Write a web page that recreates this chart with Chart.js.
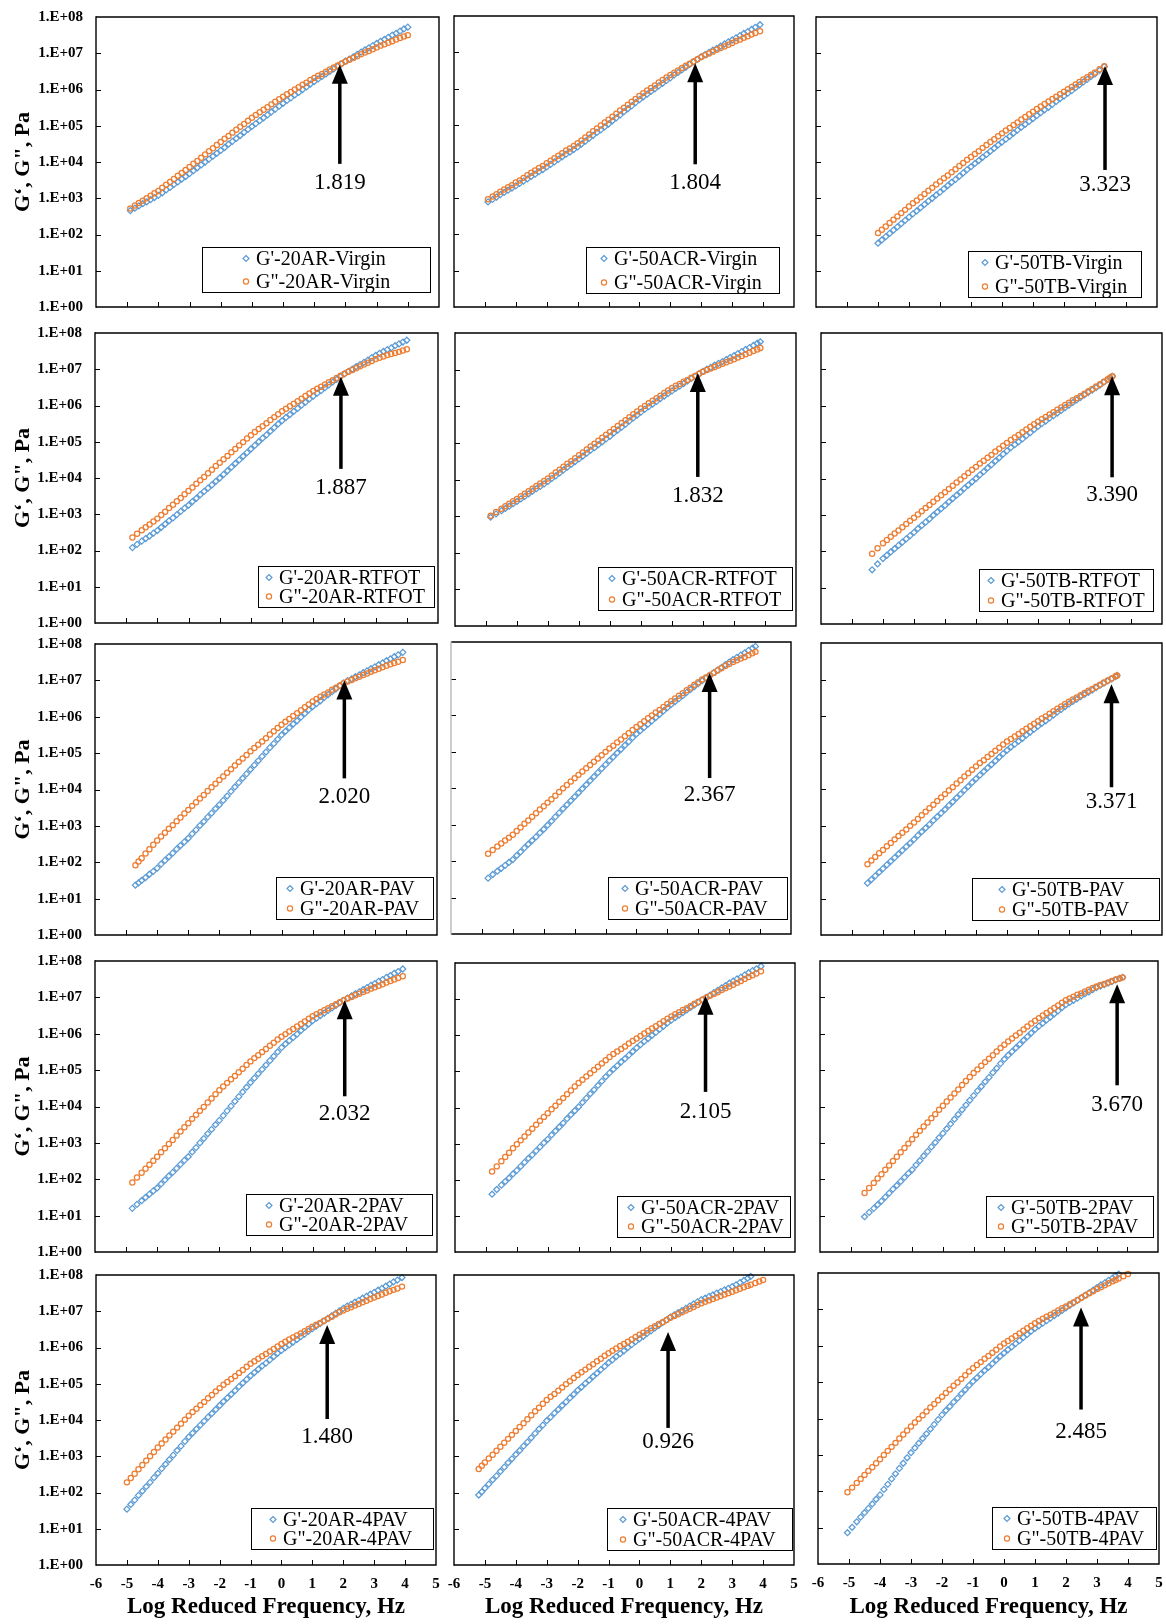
<!DOCTYPE html>
<html>
<head>
<meta charset="utf-8">
<title>G' and G" master curves</title>
<script src="https://cdn.jsdelivr.net/npm/chart.js@4.4.1/dist/chart.umd.min.js"></script>
<style>
  html, body { margin: 0; padding: 0; background: #fff; }
  #page { position: relative; width: 1166px; height: 1624px; overflow: hidden; background: #fff; }
  #page canvas { position: absolute; }
</style>
</head>
<body>
<div id="page"></div>
<script>
// ---------- categories ----------
const binders = ['20AR', '50ACR', '50TB'];
const agingStates = ['Virgin', 'RTFOT', 'PAV', '2PAV', '4PAV'];

// ---------- tick labels ----------
const xTickValues = [-6, -5, -4, -3, -2, -1, 0, 1, 2, 3, 4, 5];
const yTickValues = [1, 1e1, 1e2, 1e3, 1e4, 1e5, 1e6, 1e7, 1e8];

// ---------- crossover frequency (log Hz) and arrow tip (log Pa), rows = aging, cols = binder ----------
const crossoverFreq = [
  [1.819, 1.804, 3.323],
  [1.887, 1.832, 3.390],
  [2.020, 2.367, 3.371],
  [2.032, 2.105, 3.670],
  [1.480, 0.926, 2.485]
];
const arrowTipLogG = [
  [6.68, 6.70, 6.65],
  [6.79, 6.91, 6.81],
  [7.00, 7.15, 6.87],
  [6.92, 7.09, 7.36],
  [6.62, 6.43, 7.05]
];

// ---------- master curve data: log reduced frequency (Hz), log G' and log G" (Pa) ----------
const logFreq_20AR_Virgin = [-4.9,-4.75,-4.625,-4.5,-4.375,-4.25,-4.125,-4,-3.875,-3.75,-3.625,-3.5,-3.375,-3.25,-3.125,-3,-2.875,-2.75,-2.625,-2.5,-2.375,-2.25,-2.125,-2,-1.875,-1.75,-1.625,-1.5,-1.375,-1.25,-1.125,-1,-0.875,-0.75,-0.625,-0.5,-0.375,-0.25,-0.125,0,0.125,0.25,0.375,0.5,0.625,0.75,0.875,1,1.125,1.25,1.375,1.5,1.625,1.75,1.875,2,2.125,2.25,2.375,2.5,2.625,2.75,2.875,3,3.125,3.25,3.375,3.5,3.625,3.75,3.875,4];
const logGp_20AR_Virgin  = [2.66,2.73,2.79,2.85,2.90,2.96,3.02,3.08,3.15,3.23,3.30,3.38,3.45,3.53,3.60,3.68,3.76,3.84,3.92,4.00,4.08,4.16,4.24,4.32,4.40,4.49,4.57,4.65,4.73,4.82,4.90,4.98,5.06,5.14,5.22,5.30,5.38,5.46,5.54,5.62,5.70,5.77,5.85,5.92,6.00,6.07,6.15,6.22,6.29,6.36,6.43,6.50,6.57,6.64,6.71,6.78,6.84,6.90,6.97,7.03,7.09,7.15,7.21,7.27,7.33,7.38,7.44,7.50,7.55,7.61,7.67,7.72];
const logGpp_20AR_Virgin = [2.72,2.80,2.87,2.93,3.00,3.07,3.14,3.20,3.29,3.37,3.45,3.53,3.62,3.70,3.78,3.86,3.95,4.03,4.12,4.21,4.30,4.38,4.47,4.55,4.64,4.72,4.81,4.89,4.97,5.05,5.14,5.22,5.30,5.37,5.44,5.51,5.59,5.66,5.73,5.80,5.87,5.93,6.00,6.06,6.13,6.19,6.26,6.32,6.38,6.43,6.49,6.55,6.61,6.66,6.72,6.77,6.82,6.87,6.92,6.97,7.02,7.06,7.11,7.16,7.21,7.25,7.29,7.33,7.38,7.42,7.46,7.50];

const logFreq_50ACR_Virgin = [-4.9,-4.75,-4.625,-4.5,-4.375,-4.25,-4.125,-4,-3.875,-3.75,-3.625,-3.5,-3.375,-3.25,-3.125,-3,-2.875,-2.75,-2.625,-2.5,-2.375,-2.25,-2.125,-2,-1.875,-1.75,-1.625,-1.5,-1.375,-1.25,-1.125,-1,-0.875,-0.75,-0.625,-0.5,-0.375,-0.25,-0.125,0,0.125,0.25,0.375,0.5,0.625,0.75,0.875,1,1.125,1.25,1.375,1.5,1.625,1.75,1.875,2,2.125,2.25,2.375,2.5,2.625,2.75,2.875,3,3.125,3.25,3.375,3.5,3.625,3.75,3.9];
const logGp_50ACR_Virgin  = [2.89,2.96,3.02,3.09,3.15,3.21,3.27,3.33,3.40,3.46,3.52,3.59,3.65,3.72,3.78,3.85,3.92,3.99,4.06,4.13,4.20,4.26,4.33,4.40,4.48,4.56,4.64,4.72,4.80,4.87,4.95,5.03,5.12,5.20,5.28,5.37,5.45,5.53,5.62,5.70,5.78,5.85,5.93,6.00,6.08,6.15,6.23,6.30,6.38,6.45,6.52,6.59,6.67,6.74,6.81,6.88,6.94,7.00,7.06,7.11,7.17,7.23,7.29,7.34,7.40,7.46,7.52,7.57,7.63,7.69,7.76];
const logGpp_50ACR_Virgin = [2.96,3.04,3.10,3.17,3.23,3.29,3.35,3.42,3.48,3.55,3.62,3.69,3.75,3.82,3.88,3.95,4.02,4.09,4.16,4.23,4.30,4.36,4.43,4.50,4.58,4.66,4.74,4.83,4.91,4.99,5.07,5.15,5.23,5.31,5.40,5.48,5.56,5.64,5.72,5.80,5.88,5.95,6.02,6.09,6.17,6.24,6.31,6.38,6.44,6.50,6.57,6.63,6.69,6.75,6.81,6.87,6.92,6.97,7.02,7.07,7.12,7.16,7.21,7.26,7.31,7.35,7.40,7.44,7.49,7.53,7.58];

const logFreq_50TB_Virgin = [-4,-3.875,-3.75,-3.625,-3.5,-3.375,-3.25,-3.125,-3,-2.875,-2.75,-2.625,-2.5,-2.375,-2.25,-2.125,-2,-1.875,-1.75,-1.625,-1.5,-1.375,-1.25,-1.125,-1,-0.875,-0.75,-0.625,-0.5,-0.375,-0.25,-0.125,0,0.125,0.25,0.375,0.5,0.625,0.75,0.875,1,1.125,1.25,1.375,1.5,1.625,1.75,1.875,2,2.125,2.25,2.375,2.5,2.625,2.75,2.875,3,3.15,3.3];
const logGp_50TB_Virgin  = [1.76,1.85,1.94,2.03,2.12,2.21,2.30,2.39,2.48,2.57,2.65,2.74,2.83,2.92,3.00,3.09,3.17,3.26,3.35,3.44,3.52,3.61,3.70,3.79,3.87,3.96,4.04,4.13,4.21,4.30,4.38,4.47,4.55,4.63,4.71,4.80,4.88,4.96,5.04,5.12,5.20,5.28,5.36,5.44,5.51,5.59,5.67,5.75,5.82,5.90,5.97,6.05,6.13,6.21,6.28,6.36,6.43,6.53,6.63];
const logGpp_50TB_Virgin = [2.04,2.13,2.22,2.32,2.41,2.50,2.59,2.68,2.77,2.86,2.94,3.03,3.12,3.21,3.29,3.38,3.46,3.55,3.63,3.72,3.80,3.89,3.97,4.06,4.14,4.22,4.30,4.39,4.47,4.55,4.63,4.71,4.79,4.87,4.94,5.02,5.09,5.17,5.24,5.32,5.39,5.46,5.53,5.60,5.67,5.74,5.80,5.87,5.94,6.01,6.07,6.14,6.21,6.28,6.34,6.41,6.47,6.56,6.64];

const logFreq_20AR_RTFOT = [-4.8,-4.65,-4.5,-4.375,-4.25,-4.125,-4,-3.875,-3.75,-3.625,-3.5,-3.375,-3.25,-3.125,-3,-2.875,-2.75,-2.625,-2.5,-2.375,-2.25,-2.125,-2,-1.875,-1.75,-1.625,-1.5,-1.375,-1.25,-1.125,-1,-0.875,-0.75,-0.625,-0.5,-0.375,-0.25,-0.125,0,0.125,0.25,0.375,0.5,0.625,0.75,0.875,1,1.125,1.25,1.375,1.5,1.625,1.75,1.875,2,2.125,2.25,2.375,2.5,2.625,2.75,2.875,3,3.125,3.25,3.375,3.5,3.625,3.75,3.875,4];
const logGp_20AR_RTFOT  = [2.08,2.17,2.26,2.33,2.40,2.48,2.55,2.64,2.73,2.82,2.90,2.99,3.08,3.17,3.25,3.35,3.44,3.54,3.63,3.72,3.81,3.91,4.00,4.10,4.20,4.30,4.40,4.50,4.60,4.70,4.80,4.90,5.00,5.10,5.19,5.29,5.39,5.49,5.58,5.67,5.75,5.84,5.92,6.01,6.09,6.18,6.26,6.34,6.41,6.49,6.57,6.65,6.72,6.80,6.87,6.94,7.00,7.07,7.13,7.19,7.25,7.32,7.38,7.44,7.49,7.54,7.59,7.65,7.70,7.75,7.80];
const logGpp_20AR_RTFOT = [2.36,2.46,2.56,2.64,2.72,2.80,2.88,2.98,3.07,3.17,3.26,3.36,3.45,3.55,3.64,3.74,3.84,3.94,4.03,4.13,4.23,4.33,4.42,4.52,4.61,4.71,4.80,4.90,4.99,5.09,5.18,5.27,5.35,5.43,5.51,5.60,5.68,5.76,5.84,5.91,5.98,6.05,6.12,6.19,6.26,6.33,6.40,6.46,6.52,6.58,6.64,6.70,6.76,6.82,6.88,6.93,6.98,7.03,7.08,7.13,7.18,7.23,7.28,7.32,7.35,7.39,7.42,7.45,7.48,7.52,7.55];

const logFreq_50ACR_RTFOT = [-4.85,-4.675,-4.5,-4.375,-4.25,-4.125,-4,-3.875,-3.75,-3.625,-3.5,-3.375,-3.25,-3.125,-3,-2.875,-2.75,-2.625,-2.5,-2.375,-2.25,-2.125,-2,-1.875,-1.75,-1.625,-1.5,-1.375,-1.25,-1.125,-1,-0.875,-0.75,-0.625,-0.5,-0.375,-0.25,-0.125,0,0.125,0.25,0.375,0.5,0.625,0.75,0.875,1,1.125,1.25,1.375,1.5,1.625,1.75,1.875,2,2.125,2.25,2.375,2.5,2.625,2.75,2.875,3,3.125,3.25,3.375,3.5,3.625,3.75,3.85];
const logGp_50ACR_RTFOT  = [2.97,3.06,3.15,3.21,3.27,3.34,3.40,3.47,3.54,3.61,3.68,3.75,3.81,3.88,3.95,4.03,4.10,4.18,4.26,4.34,4.41,4.49,4.56,4.64,4.72,4.80,4.87,4.95,5.03,5.11,5.18,5.27,5.35,5.43,5.51,5.60,5.68,5.76,5.84,5.92,5.99,6.06,6.13,6.21,6.28,6.35,6.42,6.49,6.55,6.62,6.69,6.76,6.82,6.89,6.95,7.01,7.06,7.12,7.17,7.22,7.27,7.33,7.38,7.44,7.49,7.55,7.60,7.66,7.72,7.76];
const logGpp_50ACR_RTFOT = [3.01,3.11,3.20,3.27,3.34,3.41,3.47,3.54,3.61,3.68,3.75,3.82,3.89,3.96,4.03,4.11,4.19,4.27,4.35,4.43,4.50,4.58,4.66,4.74,4.82,4.90,4.98,5.06,5.14,5.22,5.30,5.38,5.46,5.54,5.62,5.70,5.78,5.86,5.94,6.01,6.08,6.15,6.22,6.29,6.36,6.43,6.50,6.56,6.61,6.67,6.72,6.78,6.83,6.89,6.94,6.99,7.03,7.07,7.11,7.16,7.20,7.24,7.28,7.33,7.37,7.42,7.46,7.51,7.55,7.59];

const logFreq_50TB_RTFOT = [-4.35,-4.175,-4,-3.875,-3.75,-3.625,-3.5,-3.375,-3.25,-3.125,-3,-2.875,-2.75,-2.625,-2.5,-2.375,-2.25,-2.125,-2,-1.875,-1.75,-1.625,-1.5,-1.375,-1.25,-1.125,-1,-0.875,-0.75,-0.625,-0.5,-0.375,-0.25,-0.125,0,0.125,0.25,0.375,0.5,0.625,0.75,0.875,1,1.125,1.25,1.375,1.5,1.625,1.75,1.875,2,2.125,2.25,2.375,2.5,2.625,2.75,2.875,3,3.125,3.25,3.325,3.4];
const logGp_50TB_RTFOT  = [1.49,1.65,1.80,1.89,1.98,2.07,2.16,2.25,2.34,2.43,2.52,2.62,2.71,2.80,2.89,2.99,3.08,3.17,3.26,3.36,3.45,3.54,3.63,3.73,3.82,3.91,4.00,4.10,4.19,4.29,4.38,4.48,4.57,4.67,4.76,4.85,4.93,5.01,5.09,5.18,5.26,5.35,5.43,5.51,5.58,5.66,5.73,5.80,5.87,5.95,6.02,6.09,6.16,6.23,6.30,6.37,6.43,6.50,6.57,6.65,6.72,6.77,6.81];
const logGpp_50TB_RTFOT = [1.93,2.08,2.22,2.31,2.40,2.49,2.57,2.66,2.75,2.84,2.92,3.01,3.10,3.19,3.27,3.36,3.45,3.54,3.62,3.71,3.80,3.89,3.97,4.06,4.15,4.24,4.32,4.41,4.49,4.57,4.65,4.74,4.82,4.90,4.98,5.06,5.13,5.20,5.27,5.35,5.42,5.49,5.56,5.63,5.69,5.76,5.82,5.89,5.95,6.02,6.08,6.15,6.21,6.27,6.33,6.40,6.46,6.53,6.59,6.66,6.73,6.77,6.81];

const logFreq_20AR_PAV = [-4.7,-4.6,-4.5,-4.375,-4.25,-4.125,-4,-3.875,-3.75,-3.625,-3.5,-3.375,-3.25,-3.125,-3,-2.875,-2.75,-2.625,-2.5,-2.375,-2.25,-2.125,-2,-1.875,-1.75,-1.625,-1.5,-1.375,-1.25,-1.125,-1,-0.875,-0.75,-0.625,-0.5,-0.375,-0.25,-0.125,0,0.125,0.25,0.375,0.5,0.625,0.75,0.875,1,1.125,1.25,1.375,1.5,1.625,1.75,1.875,2,2.125,2.25,2.375,2.5,2.625,2.75,2.875,3,3.125,3.25,3.375,3.5,3.625,3.75,3.9];
const logGp_20AR_PAV  = [1.37,1.43,1.50,1.58,1.67,1.75,1.84,1.95,2.05,2.15,2.25,2.36,2.46,2.56,2.66,2.78,2.89,3.01,3.12,3.24,3.35,3.47,3.58,3.70,3.82,3.95,4.07,4.19,4.31,4.43,4.55,4.67,4.79,4.91,5.03,5.15,5.26,5.38,5.50,5.60,5.70,5.80,5.89,5.99,6.09,6.19,6.28,6.36,6.44,6.53,6.61,6.69,6.77,6.85,6.93,6.99,7.04,7.10,7.15,7.21,7.26,7.32,7.37,7.43,7.48,7.54,7.59,7.65,7.70,7.77];
const logGpp_20AR_PAV = [1.92,2.02,2.11,2.24,2.36,2.48,2.60,2.71,2.81,2.92,3.02,3.13,3.23,3.34,3.44,3.55,3.65,3.75,3.85,3.96,4.06,4.16,4.26,4.36,4.46,4.56,4.66,4.76,4.85,4.95,5.05,5.14,5.23,5.32,5.41,5.51,5.60,5.69,5.78,5.86,5.94,6.02,6.10,6.18,6.26,6.34,6.42,6.49,6.55,6.61,6.67,6.74,6.80,6.86,6.92,6.97,7.01,7.06,7.10,7.15,7.19,7.24,7.28,7.32,7.36,7.40,7.44,7.48,7.51,7.56];

const logFreq_50ACR_PAV = [-4.8,-4.65,-4.5,-4.375,-4.25,-4.125,-4,-3.875,-3.75,-3.625,-3.5,-3.375,-3.25,-3.125,-3,-2.875,-2.75,-2.625,-2.5,-2.375,-2.25,-2.125,-2,-1.875,-1.75,-1.625,-1.5,-1.375,-1.25,-1.125,-1,-0.875,-0.75,-0.625,-0.5,-0.375,-0.25,-0.125,0,0.125,0.25,0.375,0.5,0.625,0.75,0.875,1,1.125,1.25,1.375,1.5,1.625,1.75,1.875,2,2.125,2.25,2.375,2.5,2.625,2.75,2.875,3,3.125,3.25,3.375,3.5,3.625,3.75,3.85];
const logGp_50ACR_PAV  = [1.53,1.63,1.72,1.80,1.88,1.96,2.04,2.15,2.25,2.36,2.46,2.56,2.66,2.77,2.87,2.98,3.09,3.21,3.32,3.43,3.54,3.65,3.76,3.87,3.98,4.09,4.20,4.31,4.42,4.53,4.64,4.75,4.85,4.96,5.06,5.17,5.27,5.38,5.48,5.57,5.66,5.75,5.84,5.93,6.02,6.11,6.20,6.29,6.37,6.45,6.53,6.62,6.70,6.78,6.86,6.94,7.01,7.09,7.16,7.23,7.30,7.38,7.45,7.52,7.58,7.64,7.70,7.77,7.83,7.88];
const logGpp_50ACR_PAV = [2.20,2.30,2.40,2.48,2.56,2.64,2.72,2.82,2.92,3.02,3.11,3.21,3.31,3.41,3.50,3.60,3.69,3.79,3.89,3.99,4.08,4.18,4.27,4.36,4.45,4.54,4.63,4.72,4.81,4.90,4.99,5.08,5.16,5.25,5.33,5.42,5.50,5.59,5.67,5.75,5.83,5.91,5.99,6.07,6.14,6.22,6.30,6.38,6.45,6.53,6.60,6.68,6.75,6.83,6.90,6.97,7.03,7.09,7.15,7.22,7.28,7.34,7.40,7.45,7.50,7.55,7.59,7.64,7.69,7.73];

const logFreq_50TB_PAV = [-4.5,-4.375,-4.25,-4.125,-4,-3.875,-3.75,-3.625,-3.5,-3.375,-3.25,-3.125,-3,-2.875,-2.75,-2.625,-2.5,-2.375,-2.25,-2.125,-2,-1.875,-1.75,-1.625,-1.5,-1.375,-1.25,-1.125,-1,-0.875,-0.75,-0.625,-0.5,-0.375,-0.25,-0.125,0,0.125,0.25,0.375,0.5,0.625,0.75,0.875,1,1.125,1.25,1.375,1.5,1.625,1.75,1.875,2,2.125,2.25,2.375,2.5,2.625,2.75,2.875,3,3.125,3.25,3.375,3.5,3.55];
const logGp_50TB_PAV  = [1.42,1.52,1.62,1.72,1.82,1.92,2.02,2.12,2.22,2.32,2.42,2.52,2.62,2.73,2.83,2.93,3.03,3.14,3.24,3.34,3.44,3.55,3.65,3.76,3.86,3.97,4.07,4.18,4.28,4.38,4.48,4.58,4.67,4.77,4.87,4.97,5.06,5.15,5.23,5.31,5.39,5.48,5.56,5.64,5.72,5.80,5.87,5.95,6.03,6.11,6.18,6.26,6.33,6.40,6.46,6.53,6.59,6.65,6.71,6.78,6.84,6.90,6.96,7.02,7.08,7.11];
const logGpp_50TB_PAV = [1.94,2.04,2.14,2.24,2.33,2.43,2.52,2.62,2.71,2.80,2.89,2.99,3.08,3.18,3.28,3.38,3.47,3.57,3.67,3.77,3.86,3.96,4.05,4.15,4.24,4.34,4.43,4.53,4.62,4.71,4.79,4.88,4.96,5.05,5.13,5.22,5.30,5.37,5.44,5.51,5.58,5.65,5.72,5.79,5.86,5.93,5.99,6.06,6.13,6.20,6.26,6.33,6.39,6.45,6.51,6.57,6.63,6.69,6.74,6.80,6.86,6.92,6.97,7.03,7.09,7.11];

const logFreq_20AR_2PAV = [-4.8,-4.65,-4.5,-4.375,-4.25,-4.125,-4,-3.875,-3.75,-3.625,-3.5,-3.375,-3.25,-3.125,-3,-2.875,-2.75,-2.625,-2.5,-2.375,-2.25,-2.125,-2,-1.875,-1.75,-1.625,-1.5,-1.375,-1.25,-1.125,-1,-0.875,-0.75,-0.625,-0.5,-0.375,-0.25,-0.125,0,0.125,0.25,0.375,0.5,0.625,0.75,0.875,1,1.125,1.25,1.375,1.5,1.625,1.75,1.875,2,2.125,2.25,2.375,2.5,2.625,2.75,2.875,3,3.125,3.25,3.375,3.5,3.625,3.75,3.9];
const logGp_20AR_2PAV  = [1.20,1.31,1.41,1.50,1.59,1.68,1.76,1.87,1.98,2.09,2.19,2.30,2.41,2.52,2.62,2.75,2.87,3.00,3.12,3.25,3.37,3.50,3.62,3.75,3.88,4.01,4.14,4.27,4.40,4.53,4.66,4.78,4.90,5.02,5.14,5.26,5.38,5.50,5.62,5.72,5.81,5.90,5.99,6.09,6.18,6.27,6.36,6.43,6.50,6.57,6.64,6.71,6.78,6.85,6.92,6.98,7.04,7.10,7.15,7.21,7.27,7.33,7.38,7.44,7.49,7.55,7.60,7.66,7.71,7.78];
const logGpp_20AR_2PAV = [1.91,2.05,2.18,2.29,2.40,2.51,2.62,2.74,2.85,2.97,3.08,3.20,3.31,3.43,3.54,3.66,3.77,3.88,3.99,4.11,4.22,4.34,4.45,4.55,4.65,4.75,4.84,4.94,5.04,5.14,5.24,5.33,5.41,5.50,5.58,5.67,5.75,5.84,5.92,5.99,6.06,6.13,6.20,6.27,6.34,6.41,6.48,6.54,6.59,6.65,6.70,6.76,6.81,6.87,6.92,6.97,7.01,7.06,7.10,7.15,7.19,7.24,7.28,7.32,7.36,7.41,7.45,7.49,7.53,7.58];

const logFreq_50ACR_2PAV = [-4.8,-4.65,-4.5,-4.375,-4.25,-4.125,-4,-3.875,-3.75,-3.625,-3.5,-3.375,-3.25,-3.125,-3,-2.875,-2.75,-2.625,-2.5,-2.375,-2.25,-2.125,-2,-1.875,-1.75,-1.625,-1.5,-1.375,-1.25,-1.125,-1,-0.875,-0.75,-0.625,-0.5,-0.375,-0.25,-0.125,0,0.125,0.25,0.375,0.5,0.625,0.75,0.875,1,1.125,1.25,1.375,1.5,1.625,1.75,1.875,2,2.125,2.25,2.375,2.5,2.625,2.75,2.875,3,3.125,3.25,3.375,3.5,3.625,3.75,3.9];
const logGp_50ACR_2PAV  = [1.60,1.73,1.85,1.95,2.05,2.16,2.26,2.37,2.48,2.59,2.69,2.80,2.91,3.02,3.12,3.24,3.35,3.46,3.57,3.69,3.80,3.91,4.02,4.14,4.26,4.38,4.49,4.61,4.73,4.85,4.96,5.06,5.16,5.26,5.35,5.45,5.55,5.65,5.74,5.83,5.91,6.00,6.08,6.17,6.25,6.34,6.42,6.49,6.56,6.63,6.70,6.77,6.84,6.91,6.98,7.05,7.11,7.18,7.24,7.31,7.37,7.44,7.50,7.56,7.61,7.67,7.73,7.79,7.84,7.91];
const logGpp_50ACR_2PAV = [2.23,2.37,2.51,2.63,2.75,2.87,2.98,3.09,3.20,3.31,3.41,3.52,3.63,3.74,3.84,3.95,4.05,4.16,4.26,4.37,4.47,4.58,4.68,4.77,4.86,4.95,5.04,5.13,5.22,5.31,5.40,5.48,5.55,5.62,5.69,5.77,5.84,5.91,5.98,6.05,6.12,6.19,6.25,6.32,6.39,6.46,6.52,6.58,6.64,6.70,6.75,6.81,6.87,6.93,6.98,7.04,7.09,7.14,7.19,7.25,7.30,7.35,7.40,7.45,7.50,7.56,7.61,7.66,7.71,7.77];

const logFreq_50TB_2PAV = [-4.55,-4.4,-4.25,-4.125,-4,-3.875,-3.75,-3.625,-3.5,-3.375,-3.25,-3.125,-3,-2.875,-2.75,-2.625,-2.5,-2.375,-2.25,-2.125,-2,-1.875,-1.75,-1.625,-1.5,-1.375,-1.25,-1.125,-1,-0.875,-0.75,-0.625,-0.5,-0.375,-0.25,-0.125,0,0.125,0.25,0.375,0.5,0.625,0.75,0.875,1,1.125,1.25,1.375,1.5,1.625,1.75,1.875,2,2.125,2.25,2.375,2.5,2.625,2.75,2.875,3,3.125,3.25,3.375,3.5,3.625,3.75,3.85];
const logGp_50TB_2PAV  = [0.97,1.09,1.20,1.30,1.40,1.51,1.62,1.73,1.83,1.94,2.05,2.16,2.26,2.39,2.51,2.64,2.76,2.89,3.01,3.14,3.26,3.39,3.52,3.65,3.78,3.91,4.04,4.17,4.30,4.43,4.55,4.68,4.80,4.93,5.05,5.18,5.30,5.41,5.51,5.61,5.71,5.82,5.92,6.02,6.12,6.21,6.29,6.38,6.46,6.55,6.63,6.72,6.80,6.86,6.92,6.98,7.04,7.10,7.15,7.21,7.27,7.31,7.35,7.39,7.43,7.48,7.52,7.55];
const logGpp_50TB_2PAV = [1.62,1.76,1.90,2.02,2.14,2.26,2.38,2.50,2.62,2.74,2.86,2.98,3.10,3.22,3.33,3.45,3.56,3.68,3.79,3.91,4.02,4.14,4.25,4.36,4.47,4.59,4.70,4.81,4.92,5.02,5.12,5.22,5.31,5.41,5.51,5.61,5.70,5.79,5.87,5.95,6.03,6.12,6.20,6.28,6.36,6.43,6.50,6.57,6.64,6.71,6.78,6.85,6.92,6.97,7.02,7.07,7.11,7.16,7.21,7.26,7.30,7.34,7.37,7.41,7.45,7.49,7.52,7.55];

const logFreq_20AR_4PAV = [-5,-4.875,-4.75,-4.625,-4.5,-4.375,-4.25,-4.125,-4,-3.875,-3.75,-3.625,-3.5,-3.375,-3.25,-3.125,-3,-2.875,-2.75,-2.625,-2.5,-2.375,-2.25,-2.125,-2,-1.875,-1.75,-1.625,-1.5,-1.375,-1.25,-1.125,-1,-0.875,-0.75,-0.625,-0.5,-0.375,-0.25,-0.125,0,0.125,0.25,0.375,0.5,0.625,0.75,0.875,1,1.125,1.25,1.375,1.5,1.625,1.75,1.875,2,2.125,2.25,2.375,2.5,2.625,2.75,2.875,3,3.125,3.25,3.375,3.5,3.625,3.75,3.9];
const logGp_20AR_4PAV  = [1.54,1.67,1.79,1.92,2.04,2.16,2.28,2.41,2.53,2.66,2.78,2.91,3.03,3.16,3.28,3.41,3.53,3.64,3.75,3.86,3.97,4.08,4.18,4.29,4.40,4.51,4.61,4.71,4.81,4.92,5.02,5.12,5.22,5.31,5.40,5.49,5.57,5.66,5.75,5.84,5.92,6.00,6.07,6.15,6.22,6.30,6.37,6.45,6.52,6.59,6.66,6.73,6.80,6.87,6.94,7.01,7.08,7.14,7.19,7.25,7.30,7.36,7.41,7.47,7.52,7.58,7.63,7.69,7.75,7.81,7.86,7.93];
const logGpp_20AR_4PAV = [2.28,2.40,2.52,2.64,2.76,2.88,3.00,3.12,3.24,3.35,3.46,3.57,3.68,3.79,3.90,4.01,4.12,4.22,4.31,4.41,4.50,4.60,4.69,4.79,4.88,4.97,5.05,5.13,5.21,5.30,5.38,5.47,5.55,5.62,5.69,5.76,5.82,5.89,5.96,6.03,6.10,6.16,6.22,6.28,6.33,6.39,6.45,6.51,6.57,6.63,6.68,6.74,6.79,6.85,6.91,6.97,7.02,7.07,7.11,7.16,7.20,7.25,7.29,7.34,7.38,7.42,7.46,7.51,7.55,7.59,7.63,7.68];

const logFreq_50ACR_4PAV = [-5.2,-5.1,-5,-4.875,-4.75,-4.625,-4.5,-4.375,-4.25,-4.125,-4,-3.875,-3.75,-3.625,-3.5,-3.375,-3.25,-3.125,-3,-2.875,-2.75,-2.625,-2.5,-2.375,-2.25,-2.125,-2,-1.875,-1.75,-1.625,-1.5,-1.375,-1.25,-1.125,-1,-0.875,-0.75,-0.625,-0.5,-0.375,-0.25,-0.125,0,0.125,0.25,0.375,0.5,0.625,0.75,0.875,1,1.125,1.25,1.375,1.5,1.625,1.75,1.875,2,2.125,2.25,2.375,2.5,2.625,2.75,2.875,3,3.125,3.25,3.375,3.5,3.6,3.75,3.875,4];
const logGp_50ACR_4PAV  = [1.93,2.02,2.12,2.23,2.35,2.46,2.58,2.70,2.82,2.93,3.05,3.16,3.28,3.39,3.51,3.63,3.75,3.86,3.98,4.08,4.19,4.29,4.40,4.50,4.61,4.71,4.82,4.91,5.01,5.10,5.20,5.29,5.39,5.48,5.58,5.66,5.75,5.83,5.91,6.00,6.08,6.16,6.24,6.31,6.39,6.46,6.54,6.61,6.69,6.76,6.84,6.90,6.96,7.02,7.08,7.14,7.20,7.26,7.32,7.36,7.41,7.45,7.50,7.54,7.59,7.63,7.68,7.73,7.79,7.85,7.91,7.96];
const logGpp_50ACR_4PAV = [2.65,2.74,2.83,2.94,3.04,3.15,3.26,3.37,3.48,3.59,3.70,3.81,3.91,4.02,4.13,4.24,4.34,4.45,4.55,4.64,4.72,4.81,4.90,4.99,5.07,5.16,5.24,5.32,5.39,5.47,5.54,5.62,5.69,5.77,5.84,5.91,5.97,6.04,6.10,6.16,6.22,6.29,6.35,6.41,6.47,6.53,6.59,6.65,6.70,6.76,6.82,6.87,6.92,6.97,7.02,7.07,7.12,7.17,7.22,7.26,7.30,7.34,7.38,7.42,7.46,7.50,7.54,7.58,7.62,7.66,7.70,7.73,7.78,7.82,7.86];

const logFreq_50TB_4PAV = [-5.05,-4.9,-4.75,-4.625,-4.5,-4.375,-4.25,-4.125,-4,-3.875,-3.75,-3.625,-3.5,-3.375,-3.25,-3.125,-3,-2.875,-2.75,-2.625,-2.5,-2.375,-2.25,-2.125,-2,-1.875,-1.75,-1.625,-1.5,-1.375,-1.25,-1.125,-1,-0.875,-0.75,-0.625,-0.5,-0.375,-0.25,-0.125,0,0.125,0.25,0.375,0.5,0.625,0.75,0.875,1,1.125,1.25,1.375,1.5,1.625,1.75,1.875,2,2.125,2.25,2.375,2.5,2.625,2.75,2.875,3,3.125,3.25,3.375,3.5,3.6,3.7,3.85,4];
const logGp_50TB_4PAV  = [0.86,1.01,1.16,1.29,1.41,1.53,1.65,1.78,1.90,2.05,2.19,2.34,2.48,2.63,2.77,2.92,3.06,3.19,3.32,3.45,3.58,3.71,3.84,3.97,4.10,4.22,4.33,4.45,4.56,4.68,4.79,4.91,5.02,5.12,5.22,5.32,5.41,5.51,5.61,5.71,5.80,5.89,5.97,6.06,6.14,6.23,6.31,6.40,6.48,6.55,6.62,6.69,6.76,6.83,6.90,6.97,7.04,7.11,7.18,7.25,7.32,7.39,7.46,7.53,7.60,7.67,7.73,7.80,7.86,7.92,7.97];
const logGpp_50TB_4PAV = [1.97,2.10,2.23,2.34,2.45,2.56,2.66,2.77,2.88,3.00,3.11,3.22,3.33,3.45,3.56,3.67,3.78,3.89,3.99,4.09,4.19,4.30,4.40,4.50,4.60,4.70,4.80,4.90,4.99,5.09,5.19,5.29,5.38,5.47,5.55,5.64,5.72,5.81,5.89,5.98,6.06,6.13,6.20,6.27,6.34,6.41,6.48,6.55,6.62,6.68,6.74,6.80,6.85,6.91,6.97,7.03,7.08,7.14,7.20,7.26,7.32,7.38,7.44,7.50,7.56,7.61,7.66,7.72,7.77,7.81,7.85,7.91,7.97];

// lookup of series by sample name
const seriesTable = {
  '20AR-Virgin':  [logFreq_20AR_Virgin,  logGp_20AR_Virgin,  logGpp_20AR_Virgin],
  '50ACR-Virgin': [logFreq_50ACR_Virgin, logGp_50ACR_Virgin, logGpp_50ACR_Virgin],
  '50TB-Virgin':  [logFreq_50TB_Virgin,  logGp_50TB_Virgin,  logGpp_50TB_Virgin],
  '20AR-RTFOT':   [logFreq_20AR_RTFOT,   logGp_20AR_RTFOT,   logGpp_20AR_RTFOT],
  '50ACR-RTFOT':  [logFreq_50ACR_RTFOT,  logGp_50ACR_RTFOT,  logGpp_50ACR_RTFOT],
  '50TB-RTFOT':   [logFreq_50TB_RTFOT,   logGp_50TB_RTFOT,   logGpp_50TB_RTFOT],
  '20AR-PAV':     [logFreq_20AR_PAV,     logGp_20AR_PAV,     logGpp_20AR_PAV],
  '50ACR-PAV':    [logFreq_50ACR_PAV,    logGp_50ACR_PAV,    logGpp_50ACR_PAV],
  '50TB-PAV':     [logFreq_50TB_PAV,     logGp_50TB_PAV,     logGpp_50TB_PAV],
  '20AR-2PAV':    [logFreq_20AR_2PAV,    logGp_20AR_2PAV,    logGpp_20AR_2PAV],
  '50ACR-2PAV':   [logFreq_50ACR_2PAV,   logGp_50ACR_2PAV,   logGpp_50ACR_2PAV],
  '50TB-2PAV':    [logFreq_50TB_2PAV,    logGp_50TB_2PAV,    logGpp_50TB_2PAV],
  '20AR-4PAV':    [logFreq_20AR_4PAV,    logGp_20AR_4PAV,    logGpp_20AR_4PAV],
  '50ACR-4PAV':   [logFreq_50ACR_4PAV,   logGp_50ACR_4PAV,   logGpp_50ACR_4PAV],
  '50TB-4PAV':    [logFreq_50TB_4PAV,    logGp_50TB_4PAV,    logGpp_50TB_4PAV]
};

// ---------- layout (page pixels) ----------
// plot area of each panel: [left, top, right, bottom]
const plotRects = [
  [[96, 17, 439, 307],   [454, 16, 794, 307],   [816, 17, 1157, 307]],
  [[95, 333, 438, 623],  [455, 333, 796, 626],  [821, 333, 1162, 624]],
  [[95, 644, 437, 935],  [451, 642, 791, 934],  [821, 643, 1162, 935]],
  [[95, 961, 437, 1252], [455, 963, 795, 1252], [820, 961, 1158, 1252]],
  [[96, 1275, 436, 1565],[454, 1275, 794, 1565],[818, 1273, 1159, 1564]]
];
// legend box: [x, y, width, height, marker x]
const legendRects = [
  [[202, 247, 228, 45, 246],  [586, 247, 193, 46, 604],  [968, 251, 173, 46, 985]],
  [[258, 566, 176, 41, 269],  [598, 567, 194, 43, 612],  [979, 569, 174, 42, 991]],
  [[276, 877, 157, 42, 290],  [608, 877, 179, 42, 625],  [972, 878, 187, 42, 1002]],
  [[246, 1194, 186, 41, 269], [617, 1196, 173, 41, 631], [986, 1196, 167, 41, 1001]],
  [[251, 1508, 182, 41, 273], [607, 1508, 185, 42, 623], [992, 1507, 164, 42, 1007]]
];
// arrow: [shaft length from tip, label centre below tip]
const arrowLayout = [
  [[99, 118], [101, 120], [104, 119]],
  [[92, 111], [104, 123], [101, 119]],
  [[98, 117], [105, 122], [103, 118]],
  [[96, 114], [96, 116],  [101, 121]],
  [[94, 112], [96, 110],  [102, 124]]
];

const BLUE = '#5B9BD5';
const ORANGE = '#ED7D31';
const SERIF = "'Liberation Serif', 'Times New Roman', serif";
Chart.defaults.font.family = SERIF;
Chart.defaults.color = '#000';

function drawMarker(ctx, style, x, y, r) {
  ctx.beginPath();
  if (style === 'rectRot') {
    ctx.moveTo(x, y - r); ctx.lineTo(x + r, y); ctx.lineTo(x, y + r); ctx.lineTo(x - r, y);
    ctx.closePath();
  } else {
    ctx.arc(x, y, r, 0, Math.PI * 2);
  }
  ctx.stroke();
}

// plot frame with inward tick marks
const framePlugin = {
  id: 'frame',
  afterDatasetsDraw(chart, args, opts) {
    const { ctx, chartArea: a } = chart;
    const xs = chart.scales.x, ys = chart.scales.y;
    ctx.save();
    ctx.strokeStyle = '#000';
    ctx.lineWidth = 1;
    ctx.beginPath();
    xs.ticks.forEach(t => {
      if (t.value <= xs.min || t.value >= xs.max) return;
      const px = Math.round(xs.getPixelForValue(t.value)) + 0.5;
      ctx.moveTo(px, a.bottom); ctx.lineTo(px, a.bottom - 5);
    });
    ys.ticks.forEach(t => {
      if (t.value <= ys.min || t.value >= ys.max) return;
      const py = Math.round(ys.getPixelForValue(t.value)) + 0.5;
      ctx.moveTo(a.left, py); ctx.lineTo(a.left + 5, py);
    });
    ctx.stroke();
    ctx.lineWidth = 1.4;
    ctx.beginPath();
    ctx.moveTo(a.left, a.top); ctx.lineTo(a.right, a.top); ctx.lineTo(a.right, a.bottom); ctx.lineTo(a.left, a.bottom);
    ctx.stroke();
    ctx.strokeStyle = opts.leftColor || '#000';
    ctx.beginPath(); ctx.moveTo(a.left, a.top - 0.7); ctx.lineTo(a.left, a.bottom + 0.7); ctx.stroke();
    ctx.restore();
  }
};

// boxed legend inside the plot
const legendBoxPlugin = {
  id: 'legendBox',
  afterDraw(chart, args, o) {
    const ctx = chart.ctx;
    ctx.save();
    ctx.fillStyle = '#fff';
    ctx.fillRect(o.x, o.y, o.w, o.h);
    ctx.strokeStyle = '#000';
    ctx.lineWidth = 1;
    ctx.strokeRect(Math.round(o.x) + 0.5, Math.round(o.y) + 0.5, o.w, o.h);
    ctx.font = '20px ' + SERIF;
    ctx.textAlign = 'left';
    ctx.textBaseline = 'middle';
    const rows = [o.y + 11.5, o.y + o.h - 10.5];
    chart.data.datasets.forEach((ds, i) => {
      ctx.strokeStyle = ds.borderColor;
      ctx.lineWidth = 1.2;
      drawMarker(ctx, ds.pointStyle, o.mx, rows[i], ds.pointRadius);
      ctx.fillStyle = '#000';
      ctx.fillText(ds.label, o.mx + 10, rows[i] + 1);
    });
    ctx.restore();
  }
};

// arrow pointing at the G'/G" crossover, with its frequency
const crossArrowPlugin = {
  id: 'crossArrow',
  afterDraw(chart, args, o) {
    const ctx = chart.ctx;
    const ax = chart.scales.x.getPixelForValue(o.freq);
    const ty = chart.scales.y.getPixelForValue(Math.pow(10, o.logG));
    ctx.save();
    ctx.fillStyle = '#000';
    ctx.beginPath();
    ctx.moveTo(ax, ty); ctx.lineTo(ax + 8, ty + 19); ctx.lineTo(ax - 8, ty + 19);
    ctx.closePath();
    ctx.fill();
    ctx.fillRect(ax - 1.75, ty + 18, 3.5, o.shaft - 18);
    ctx.font = '23px ' + SERIF;
    ctx.textAlign = 'center';
    ctx.textBaseline = 'middle';
    ctx.fillText(o.freq.toFixed(3), ax, ty + o.labelDy);
    ctx.restore();
  }
};

const page = document.getElementById('page');

function makePanel(row, col) {
  const name = binders[col] + '-' + agingStates[row];
  const [lf, gp, gpp] = seriesTable[name];
  const [l, t, r, b] = plotRects[row][col];
  const cl = col === 0 ? 0 : l - 14;
  const ct = row === 0 ? 0 : t - 12;
  const cr = r + 12;
  const cb = row === 4 ? 1624 : b + 12;
  const w = cr - cl, h = cb - ct;

  const canvas = document.createElement('canvas');
  canvas.width = w; canvas.height = h;
  canvas.style.left = cl + 'px'; canvas.style.top = ct + 'px';
  canvas.style.width = w + 'px'; canvas.style.height = h + 'px';
  page.appendChild(canvas);

  const isLeft = col === 0, isBottom = row === 4;
  const lg = legendRects[row][col];
  const ar = arrowLayout[row][col];

  new Chart(canvas, {
    type: 'scatter',
    data: {
      datasets: [
        {
          label: "G'-" + name,
          data: gp.map((v, i) => ({ x: lf[i], y: Math.pow(10, v) })),
          pointStyle: 'rectRot', pointRadius: 3, borderWidth: 1.25, pointBorderWidth: 1.25,
          borderColor: BLUE, backgroundColor: 'rgba(255,255,255,0)', order: 2, clip: false
        },
        {
          label: 'G"-' + name,
          data: gpp.map((v, i) => ({ x: lf[i], y: Math.pow(10, v) })),
          pointStyle: 'circle', pointRadius: 2.6, borderWidth: 1.25, pointBorderWidth: 1.25,
          borderColor: ORANGE, backgroundColor: 'rgba(255,255,255,0)', order: 1, clip: false
        }
      ]
    },
    options: {
      responsive: false,
      animation: false,
      devicePixelRatio: 1,
      events: [],
      layout: { padding: { left: 0, top: t - ct, right: cr - r, bottom: 0 } },
      plugins: {
        legend: { display: false },
        tooltip: { enabled: false },
        frame: { leftColor: (row === 2 && col === 1) ? '#b8b8b8' : '#000' },
        legendBox: { x: lg[0] - cl, y: lg[1] - ct, w: lg[2], h: lg[3], mx: lg[4] - cl },
        crossArrow: { freq: crossoverFreq[row][col], logG: arrowTipLogG[row][col], shaft: ar[0], labelDy: ar[1] }
      },
      scales: {
        x: {
          type: 'linear', position: 'bottom', min: -6, max: 5,
          grid: { display: false, drawTicks: false },
          border: { display: false },
          afterBuildTicks: s => { s.ticks = xTickValues.map(v => ({ value: v })); },
          afterFit: s => { s.height = cb - b; s.paddingLeft = 0; s.paddingRight = 0; s.paddingTop = 0; s.paddingBottom = 0; },
          ticks: {
            display: isBottom, autoSkip: false, maxRotation: 0, minRotation: 0, padding: 10,
            font: { size: 15, weight: 'bold' }, color: '#000',
            callback: v => String(v)
          },
          title: {
            display: isBottom, text: 'Log Reduced Frequency, Hz', color: '#000',
            font: { size: 23, weight: 'bold' }, padding: { top: 0, bottom: 3 }
          }
        },
        y: {
          type: 'logarithmic', position: 'left', min: 1, max: 1e8,
          grid: { display: false, drawTicks: false },
          border: { display: false },
          afterBuildTicks: s => { s.ticks = yTickValues.map(v => ({ value: v })); },
          afterFit: s => { s.width = l - cl; s.paddingLeft = 0; s.paddingRight = 0; s.paddingTop = 0; s.paddingBottom = 0; },
          ticks: {
            display: isLeft, autoSkip: false, padding: 13,
            font: { size: 15, weight: 'bold' }, color: '#000',
            callback: v => '1.E+' + String(Math.round(Math.log10(v))).padStart(2, '0')
          },
          title: {
            display: isLeft, text: 'G\u2018, G", Pa', color: '#000',
            font: { size: 22, weight: 'bold' }, padding: { top: 10, bottom: 0 }
          }
        }
      }
    },
    plugins: [framePlugin, legendBoxPlugin, crossArrowPlugin]
  });
}

for (let row = 0; row < agingStates.length; row++) {
  for (let col = 0; col < binders.length; col++) {
    makePanel(row, col);
  }
}
</script>
</body>
</html>
